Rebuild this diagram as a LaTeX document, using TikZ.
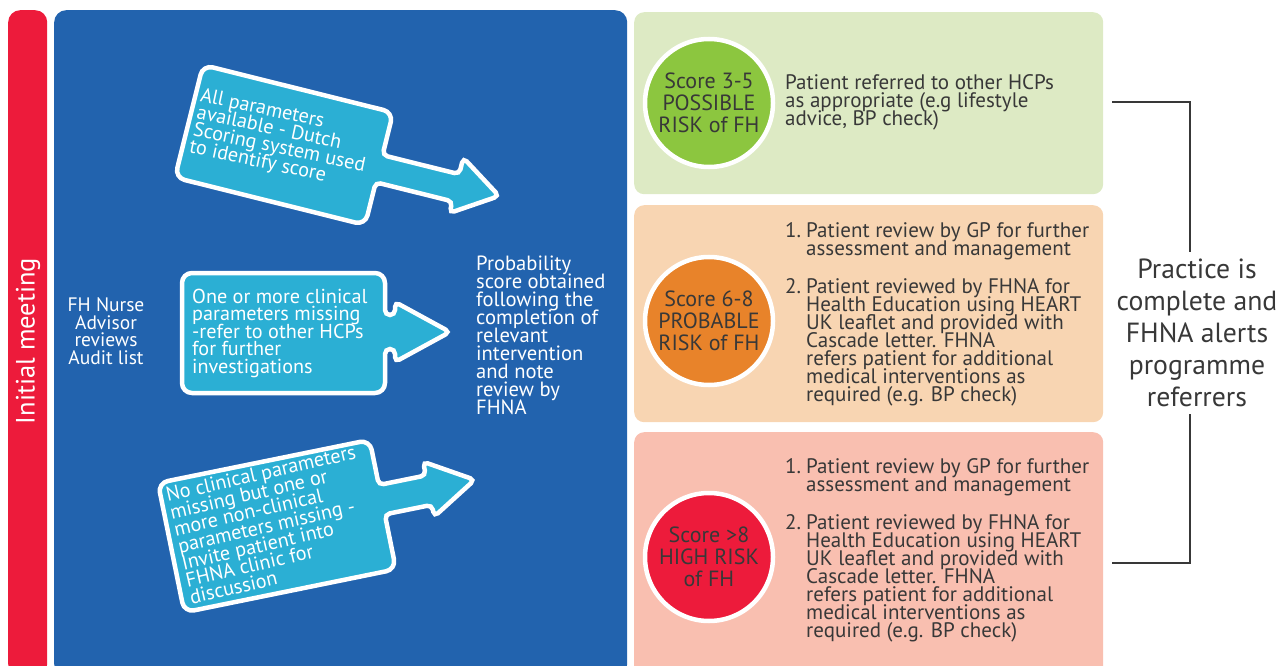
\documentclass[tikz,border=0pt]{standalone}
\usepackage{fontspec}
\setmainfont{PT Sans}
\usepackage{tikz}
\usetikzlibrary{positioning}
\definecolor{meetred}{HTML}{ED1B3B}
\definecolor{panelblue}{HTML}{2263AE}
\definecolor{paddlecyan}{HTML}{2BAFD4}
\definecolor{possbg}{HTML}{DDEAC4}
\definecolor{possdot}{HTML}{8CC63F}
\definecolor{probbg}{HTML}{F8D5B2}
\definecolor{probdot}{HTML}{E8832A}
\definecolor{highbg}{HTML}{F9BFB0}
\definecolor{inkgrey}{HTML}{383838}
\setlength{\lineskiplimit}{-20pt}
% width, height, stem top, stem bottom, head x, head top, head bottom, tip x
\newcommand{\paddle}[8]{%
  \filldraw[paddle] (#1/2,0) [rounded corners=10pt] -- (#1,0)
    [rounded corners=5pt] -- (#1,-#3) -- (#5,-#3) -- (#5,-#6)
    -- (#8,{-(#6+#7)/2}) -- (#5,-#7) -- (#5,-#4) -- (#1,-#4)
    [rounded corners=10pt] -- (#1,-#2) -- (0,-#2) -- (0,0) -- cycle;}
\newcommand{\itm}[1]{\makebox[21pt][l]{#1}}

\begin{document}
\begin{tikzpicture}[x=1pt, y=1pt,
    paddle/.style={fill=paddlecyan, draw=white, line width=4.5pt},
    paddletext/.style={text=white, align=left, inner sep=0pt,
      font=\fontsize{20.2}{17.5}\selectfont},
    band/.style={rounded corners=12pt, minimum height=666pt, inner sep=0pt, anchor=north west},
    riskbox/.style={rounded corners=10pt, minimum width=469pt, inner sep=0pt, anchor=north west},
    riskdot/.style={circle, draw=white, line width=4.5pt, minimum size=128pt, inner sep=0pt,
      align=center, text=inkgrey, font=\fontsize{22}{22}\selectfont},
    risktext/.style={text=inkgrey, align=left, inner sep=0pt, font=\fontsize{21}{18}\selectfont},
    bluetext/.style={text=white, inner sep=0pt},
    bracket/.style={draw=inkgrey, line width=2.5pt}]
  \useasboundingbox (0,0) rectangle (1286,-666);
  \clip (0,0) rectangle (1286,-666);

  % left bands
  \node[band, fill=meetred, minimum width=39pt] (meet) at (8,-10) {};
  \node[band, fill=panelblue, minimum width=573pt] (panel) at (54,-10) {};
  \node[bluetext, rotate=90, font=\fontsize{26.5}{24}\selectfont] (meettext) at (28,-341) {Initial meeting};
  \node[bluetext, align=center, font=\fontsize{19.5}{17.5}\selectfont] (nurse) at (106,-331)
    {FH Nurse\\Advisor\\reviews\\Audit list};
  \node[bluetext, align=left, anchor=west, font=\fontsize{20.6}{18}\selectfont] (prob) at (476,-335)
    {Probability\\score obtained\\following the\\completion of\\relevant\\intervention\\and note\\review by\\FHNA};

  % paddles
  \begin{scope}[shift={(203,-65)}, rotate=-14]
    \paddle{196}{116}{44}{72}{275}{27}{84}{319}
    \node[paddletext, transform shape, rotate=2, anchor=west] (allpar) at (6,-57)
      {All parameters\\available - Dutch\\Scoring system used\\to identify score};
  \end{scope}
  \begin{scope}[shift={(182,-273)}]
    \paddle{203}{120}{42}{76}{213}{29}{89}{268}
    \node[paddletext, anchor=west] (onemore) at (10,-60)
      {One or more clinical\\parameters missing\\-refer to other HCPs\\for further\\investigations};
  \end{scope}
  \begin{scope}[shift={(158,-483)}, rotate=11.5]
    \paddle{216}{132}{46}{76}{264}{32}{88}{311}
    \node[paddletext, transform shape, rotate=1.5, anchor=west] (noclin) at (7,-66)
      {No clinical parameters\\missing but one or\\more non-clinical\\parameters missing -\\Invite patient into\\FHNA clinic for\\discussion};
  \end{scope}

  % risk boxes
  \node[riskbox, fill=possbg, minimum height=182pt] (possible) at (634,-12) {};
  \node[riskbox, fill=probbg, minimum height=217pt] (probable) at (634,-205) {};
  \node[riskbox, fill=highbg, minimum height=250pt] (high) at (634,-432) {};

  \node[riskdot, fill=possdot] (possdot) at (709,-103) {Score 3-5\\POSSIBLE\\RISK of FH};
  \node[riskdot, fill=probdot] (probdot) at (709,-321) {Score 6-8\\PROBABLE\\RISK of FH};
  \node[riskdot, fill=meetred] (highdot) at (709,-557) {Score >8\\HIGH RISK\\of FH};

  \node[risktext, anchor=west] (posstext) at (785,-102)
    {Patient referred to other HCPs\\as appropriate (e.g lifestyle\\advice, BP check)};
  \node[risktext, anchor=north west] (probtext) at (785,-222)
    {\itm{1.}Patient review by GP for further\\
     \itm{}assessment and management\\[20pt]
     \itm{2.}Patient reviewed by FHNA for\\
     \itm{}Health Education using HEART\\
     \itm{}UK leaflet and provided with\\
     \itm{}Cascade letter. FHNA\\
     \itm{}refers patient for additional\\
     \itm{}medical interventions as\\
     \itm{}required (e.g. BP check)};
  \node[risktext, anchor=north west] (hightext) at (785,-458)
    {\itm{1.}Patient review by GP for further\\
     \itm{}assessment and management\\[20pt]
     \itm{2.}Patient reviewed by FHNA for\\
     \itm{}Health Education using HEART\\
     \itm{}UK leaflet and provided with\\
     \itm{}Cascade letter. FHNA\\
     \itm{}refers patient for additional\\
     \itm{}medical interventions as\\
     \itm{}required (e.g. BP check)};

  % outcome bracket
  \node[text=inkgrey, align=center, inner sep=7pt, font=\fontsize{27.7}{32}\selectfont] (done) at (1197,-333)
    {Practice is\\complete and\\FHNA alerts\\programme\\referrers};
  \coordinate (brtop) at (1112,-102);
  \coordinate (brbot) at (1112,-563);
  \draw[bracket] (brtop) -| ([xshift=-7pt]done.north);
  \draw[bracket] (brbot) -| ([xshift=-7pt]done.south);
\end{tikzpicture}
\end{document}
